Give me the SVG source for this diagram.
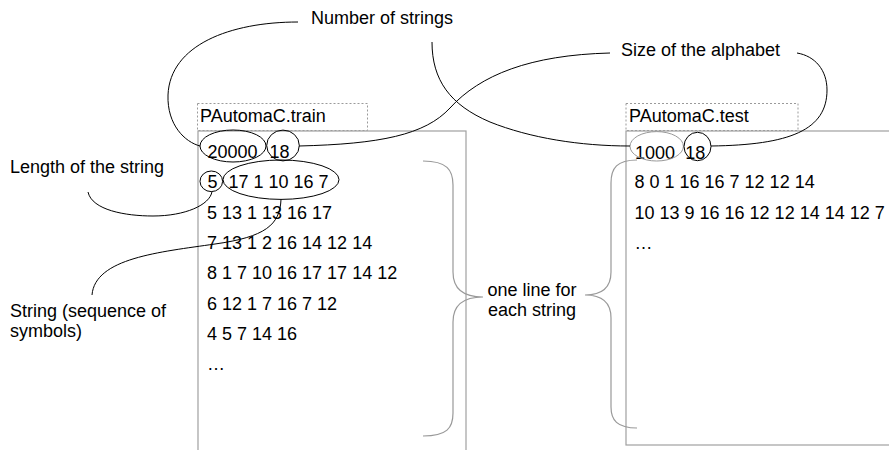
<svg xmlns="http://www.w3.org/2000/svg" width="889" height="450" viewBox="0 0 889 450">
<style>
text{font-family:"Liberation Sans",Arial,sans-serif;font-size:18px;fill:#000}
.box{fill:none;stroke:#a0a0a0;stroke-width:1.2}
.dot{fill:none;stroke:#9a9a9a;stroke-width:1;stroke-dasharray:2 2}
.el{fill:none;stroke:#000;stroke-width:1}
.elg{fill:none;stroke:#999;stroke-width:1}
.con{fill:none;stroke:#000;stroke-width:1}
.brace{fill:none;stroke:#999;stroke-width:1.2}
</style>
<rect width="889" height="450" fill="#fff"/>
<g id="train-file">
<rect class="dot" x="197.5" y="103.5" width="170" height="27"/>
<text x="200" y="122">PAutomaC.train</text>
<rect class="box" x="198" y="131" width="268" height="340"/>
<text x="207.5" y="158">20000</text>
<text x="269.5" y="158">18</text>
<text x="207.5" y="188.3">5</text>
<text x="228.5" y="188.3">17 1 10 16 7</text>
<text x="207" y="218.6">5 13 1 13 16 17</text>
<text x="207" y="248.9">7 13 1 2 16 14 12 14</text>
<text x="207" y="279.2">8 1 7 10 16 17 17 14 12</text>
<text x="207" y="309.5">6 12 1 7 16 7 12</text>
<text x="207" y="339.8">4 5 7 14 16</text>
<text x="207" y="370.1">…</text>
<ellipse class="el" cx="233" cy="146" rx="33" ry="16"/>
<ellipse class="el" cx="283" cy="145.5" rx="16.3" ry="15.4"/>
<ellipse class="el" cx="211.3" cy="181.3" rx="11.3" ry="10.3"/>
<ellipse class="el" cx="281" cy="179.7" rx="58" ry="19.7"/>
</g>
<g id="test-file">
<rect class="dot" x="626" y="103.5" width="172" height="27"/>
<text x="629" y="122">PAutomaC.test</text>
<rect class="box" x="626" y="131" width="280" height="314"/>
<text x="635" y="159">1000</text>
<text x="685.3" y="159">18</text>
<text x="634.5" y="188">8 0 1 16 16 7 12 12 14</text>
<text x="634.5" y="218.5">10 13 9 16 16 12 12 14 14 12 7</text>
<text x="634.5" y="249">…</text>
<ellipse class="elg" cx="656.7" cy="146.3" rx="26.7" ry="14.7"/>
<ellipse class="el" cx="697.5" cy="146.5" rx="13.5" ry="14.2"/>
</g>
<g id="label-number">
<text x="311" y="24">Number of strings</text>
</g>
<g id="label-alphabet">
<text x="621" y="56">Size of the alphabet</text>
</g>
<g id="label-length">
<text x="10" y="173">Length of the string</text>
</g>
<g id="label-string">
<text x="10" y="317">String (sequence of</text>
<text x="10" y="337">symbols)</text>
</g>
<g id="label-oneline">
<text x="532" y="296" text-anchor="middle">one line for</text>
<text x="532" y="316" text-anchor="middle">each string</text>
</g>
<g id="connectors">
<path class="con" d="M298,22 C230,22 170,45 168,95 C167,125 185,142 200,146"/>
<path class="con" d="M432,42 C432,80 450,105 490,122 C530,138 580,146 630,146"/>
<path class="con" d="M610,53 C530,55 480,75 450,108 C425,135 380,144 299,146"/>
<path class="con" d="M797,53 C815,56 827,70 827,90 C827,130 790,145 711,146"/>
<path class="con" d="M88,192 C92,210 125,216 153,216 C185,216 210,205 212,191.5"/>
<path class="con" d="M281,199.4 C280,225 265,237 215,244 C160,252 95,258 92,295"/>
<path class="brace" d="M423,161 C447,161 453,170 453,185 L453,272 C453,288 462,297 483,297 C462,297 453,306 453,322 L453,413 C453,428 447,436 423,436"/>
<path class="brace" d="M637,160 C617,160 611,168 611,183 L611,272 C611,287 603,295 585,295 C603,295 611,303 611,318 L611,407 C611,420 617,428 637,428"/>
</g>
</svg>
